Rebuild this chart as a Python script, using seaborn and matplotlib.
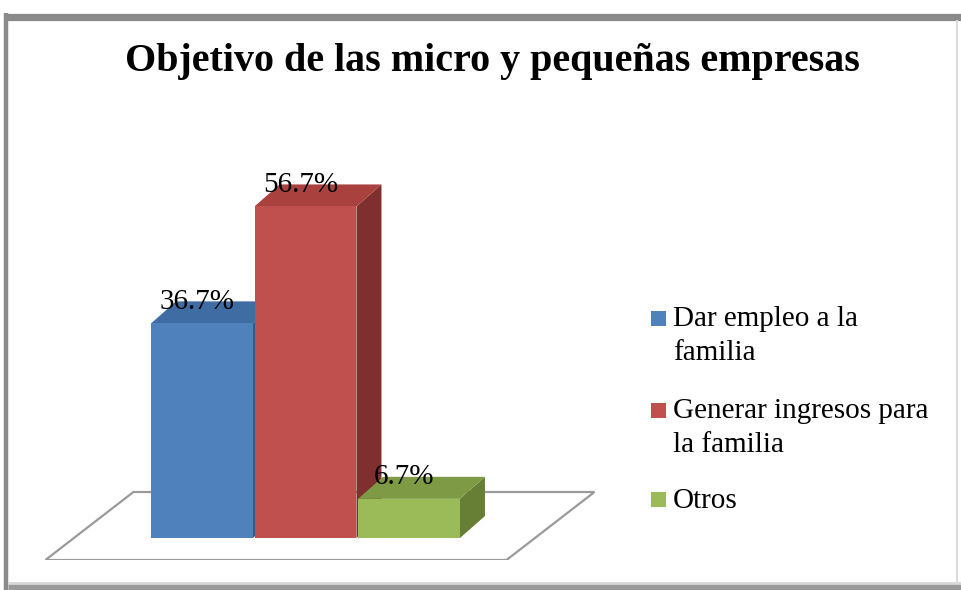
import numpy as np
import matplotlib
matplotlib.use("Agg")
import matplotlib.pyplot as plt
import seaborn as sns
from matplotlib.patches import Polygon, Rectangle
from matplotlib.lines import Line2D
from matplotlib.transforms import IdentityTransform

# data
categories = ["Dar empleo a la familia", "Generar ingresos para la familia", "Otros"]
legend_labels = ["Dar empleo a la\nfamilia", "Generar ingresos para\nla familia", "Otros"]
values = [36.7, 56.7, 6.7]
value_labels = ["36.7%", "56.7%", "6.7%"]

front_colors = ["#4F81BD", "#C0504D", "#9BBB59"]
top_colors = ["#3F6CA3", "#A9423F", "#7E9A45"]
side_colors = ["#36598A", "#7F302E", "#667F35"]

sns.set_theme(style="white")
plt.rcParams["font.family"] = ["Liberation Serif", "DejaVu Serif"]
plt.rcParams["text.color"] = "black"

W, H = 961, 590
fig = plt.figure(figsize=(W / 100, H / 100), dpi=100)
fig.patch.set_facecolor("white")


def px(x, y):
    # pixel position (from top-left) -> figure fraction
    return x / W, 1 - y / H


# frame of the chart area: dark top/left, shaded bottom, faint right
def frame_line(p0, p1, color, lw):
    (x0, y0), (x1, y1) = px(*p0), px(*p1)
    fig.add_artist(Line2D([x0, x1], [y0, y1], transform=fig.transFigure,
                          color=color, linewidth=lw, solid_capstyle="butt"))


frame_line((6, 13), (6, 590), "#8a8a8a", 3.2)
frame_line((4, 16.5), (961, 16.5), "#8a8a8a", 5.2)
frame_line((8, 586.5), (961, 586.5), "#9a9a9a", 5.0)
frame_line((8, 582.5), (961, 582.5), "#d8d8d8", 2.0)
frame_line((957, 20), (957, 582), "#dcdcdc", 1.5)

ax = fig.add_axes([45 / W, 30 / H, 560 / W, 460 / H])

sns.barplot(x=categories, y=values, hue=categories, palette=front_colors, width=0.985,
            saturation=1, legend=False, ax=ax)
ax.set_xlim(-1.517, 3.894)
ax.set_ylim(-3.76, 74.9)
ax.axis("off")

fig.canvas.draw()
to_disp = ax.transData.transform
depth = np.array([25.0, 22.0])  # pixel offset of the bar depth

bars = sorted(ax.patches, key=lambda p: p.get_x())

# floor parallelogram under the bars
x_first = bars[0].get_x() - 0.75
x_last = bars[-1].get_x() + bars[-1].get_width() + 0.72
pl = to_disp((x_first, 0))
pr = to_disp((x_last, 0))
front_off = np.array([-28.0, -22.0])
back_off = np.array([60.0, 46.0])
floor = Polygon([pl + front_off, pr + front_off, pr + back_off, pl + back_off],
                closed=True, transform=IdentityTransform(), facecolor="white",
                edgecolor="#9a9a9a", linewidth=1.6, zorder=1)
ax.add_artist(floor)

for i, p in enumerate(bars):
    x0, w, h = p.get_x(), p.get_width(), p.get_height()
    br = to_disp((x0 + w, 0))
    tl = to_disp((x0, h))
    tr = to_disp((x0 + w, h))
    side = Polygon([br, tr, tr + depth, br + depth], closed=True,
                   transform=IdentityTransform(), facecolor=side_colors[i],
                   edgecolor="none", zorder=3 * i + 2)
    top = Polygon([tl, tr, tr + depth, tl + depth], closed=True,
                  transform=IdentityTransform(), facecolor=top_colors[i],
                  edgecolor="none", zorder=3 * i + 2)
    ax.add_artist(side)
    ax.add_artist(top)
    p.set_zorder(3 * i + 3)
    p.set_edgecolor("none")
    ax.text(x0 + w / 2 - 0.05, h + 2.5, value_labels[i], ha="center", va="baseline",
            fontsize=21, color="black", zorder=20)

tx, ty = px(492, 62)
fig.text(tx, ty, "Objetivo de las micro y pequeñas empresas",
         ha="center", va="center", fontsize=28.9, fontweight="bold", color="black")

# legend: square key next to the first line of each label
legend_baselines = [327, 419, 508]
line_pitch = 33
for lab, col, yb in zip(legend_labels, front_colors, legend_baselines):
    sx, sy = px(651, yb - 1)
    fig.patches.append(Rectangle((sx, sy), 15 / W, 15 / H, transform=fig.transFigure,
                                 facecolor=col, edgecolor="none"))
    n_extra = lab.count("\n")
    lx, ly = px(673, yb + n_extra * line_pitch)
    fig.text(lx, ly, lab, ha="left", va="baseline", fontsize=21, color="black",
             linespacing=1.38)

fig.savefig("out.png", dpi=100)
